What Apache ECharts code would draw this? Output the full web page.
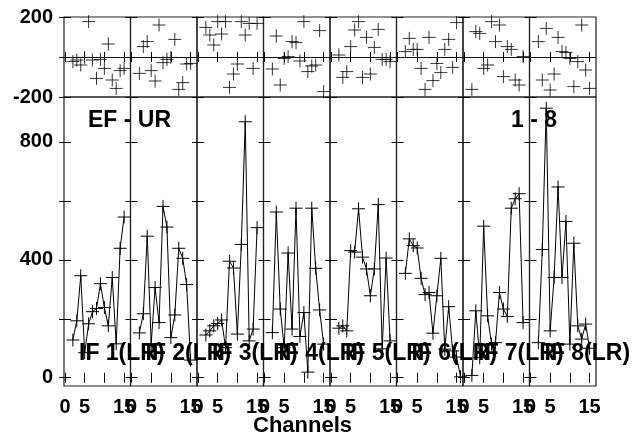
<!DOCTYPE html>
<html>
<head>
<meta charset="utf-8">
<script src="https://cdn.jsdelivr.net/npm/echarts@6/dist/echarts.min.js"></script>
<style>
  html, body { margin: 0; padding: 0; background: #fff; }
  #main { width: 634px; height: 439px; }
</style>
</head>
<body>
<div id="main"></div>
<script>
// channels (x), per IF: amplitude and phase
var channels = [2, 3, 4, 5, 6, 7, 8, 9, 10, 11, 12, 13, 14, 15, 16];
var ifNames = ['IF 1(LR)', 'IF 2(LR)', 'IF 3(LR)', 'IF 4(LR)', 'IF 5(LR)', 'IF 6(LR)', 'IF 7(LR)', 'IF 8(LR)'];

var ampIF1 = [128, 193, 346, 85, 183, 224, 235, 319, 238, 176, 340, 115, 439, 545, '-'];
var ampIF2 = [152, 217, 480, 115, 306, 187, 581, 511, 136, 213, 439, 405, 316, 60, '-'];
var ampIF3 = [145, 159, 176, 184, 196, 102, 395, 372, 148, 452, 868, 125, 165, 509, '-'];
var ampIF4 = [153, 562, 233, 102, 423, 165, 575, 140, 221, 19, 575, 371, 230, 114, '-'];
var ampIF5 = [168, 176, 159, 431, 426, 573, 409, 369, 278, 369, 587, 98, 406, 125, '-'];
var ampIF6 = [354, 471, 448, 440, 337, 282, 289, 151, 278, 405, 97, 241, 91, 70, 3];
var ampIF7 = [8, 227, 68, 514, 210, 114, 119, 289, 233, 208, 575, 607, 624, 187, '-'];
var ampIF8 = [119, 435, 914, 159, 340, 647, 340, 530, 114, 456, 176, 131, 182, 100, '-'];

var phsIF1 = [-23, -15, -40, -2, 177, -15, -107, -12, -57, 65, -115, -157, -68, -57, '-'];
var phsIF2 = [-82, 52, 77, -68, -120, 160, -28, -12, -2, 88, -162, -128, -35, -32, '-'];
var phsIF3 = [148, 110, 60, 177, 115, 177, -152, -85, -35, 177, 110, 168, -57, 168, '-'];
var phsIF4 = [-60, 105, -140, -7, 2, 77, 72, -20, 177, -73, -45, -40, 132, -173, '-'];
var phsIF5 = [10, -102, -73, 52, 135, 177, -102, 98, -85, 48, 138, -12, -12, -23, '-'];
var phsIF6 = [27, 93, 38, 38, -57, -162, 98, -118, -32, -78, 38, 88, -52, 172, '-'];
var phsIF7 = [-162, 127, 118, -57, -40, 177, 77, 160, -98, 52, 38, -115, -140, 2, '-'];
var phsIF8 = [77, -115, 143, -165, -85, 98, 27, 22, -7, -148, -23, 160, -65, -157, '-'];

var xTicks = [0, 5, 10, 15];
var xTickLabels = [0, 5, 15];
var ampTicks = [0, 200, 400, 600, 800];
var ampTickLabels = [0, 400, 800];
var phsTicks = [-200, 0, 200];
var phsTickLabels = [-200, 200];

var ampList = [ampIF1, ampIF2, ampIF3, ampIF4, ampIF5, ampIF6, ampIF7, ampIF8];
var phsList = [phsIF1, phsIF2, phsIF3, phsIF4, phsIF5, phsIF6, phsIF7, phsIF8];

var FONT = 'Liberation Sans, Arial, sans-serif';
var plotLeft = 64;
var panelW = 66.5;
var crossPath = 'path://M0,5L10,5M5,0L5,10';

function pairData(vals) {
  var out = [];
  for (var i = 0; i < channels.length; i++) {
    out.push([channels[i], vals[i]]);
  }
  return out;
}

var grids = [], xAxes = [], yAxes = [], series = [], graphics = [];

function addPanel(col, isAmp) {
  var p = grids.length;
  grids.push({
    left: plotLeft + col * panelW,
    top: isAmp ? 97 : 17,
    width: panelW,
    height: isAmp ? 289 : 80,
    show: true,
    borderColor: '#222',
    borderWidth: 1.2,
    backgroundColor: 'transparent'
  });
  var xBase = {
    gridIndex: p, type: 'value', min: -0.25, max: 16.63,
    axisLine: { show: false },
    splitLine: { show: false },
    axisTick: { show: true, inside: true, length: 5, customValues: xTicks, lineStyle: { color: '#000', width: 1 } }
  };
  xAxes.push(Object.assign({}, xBase, {
    position: 'bottom',
    axisLabel: {
      show: isAmp, customValues: xTickLabels, margin: 11,
      color: '#000', fontFamily: FONT, fontWeight: 'bold', fontSize: 20
    }
  }));
  xAxes.push(Object.assign({}, xBase, { position: 'top', axisLabel: { show: false } }));

  var yMin = isAmp ? -28 : -200;
  var yMax = isAmp ? 952 : 200;
  var yBase = {
    gridIndex: p, type: 'value', min: yMin, max: yMax,
    axisLine: { show: false },
    splitLine: { show: false },
    axisTick: { show: true, inside: true, length: 6, customValues: isAmp ? ampTicks : phsTicks, lineStyle: { color: '#000', width: 1 } }
  };
  yAxes.push(Object.assign({}, yBase, {
    position: 'left',
    axisLabel: {
      show: col === 0, customValues: isAmp ? ampTickLabels : phsTickLabels, margin: 11,
      color: '#000', fontFamily: FONT, fontWeight: 'bold', fontSize: 20
    }
  }));
  yAxes.push(Object.assign({}, yBase, { position: 'right', axisLabel: { show: false } }));

  if (isAmp) {
    series.push({
      type: 'line',
      xAxisIndex: 2 * p, yAxisIndex: 2 * p,
      data: pairData(ampList[col]),
      symbol: crossPath, symbolSize: 13, showAllSymbol: true,
      connectNulls: false,
      lineStyle: { color: '#000', width: 1 },
      itemStyle: { color: '#000', borderColor: '#000', borderWidth: 1 },
      animation: false, silent: true
    });
  } else {
    series.push({
      type: 'scatter',
      xAxisIndex: 2 * p, yAxisIndex: 2 * p,
      data: pairData(phsList[col]),
      symbol: crossPath, symbolSize: 13,
      itemStyle: { color: '#000', borderColor: '#000', borderWidth: 1 },
      markLine: {
        silent: true, symbol: 'none', animation: false,
        label: { show: false },
        lineStyle: { color: '#111', width: 1.2, type: 'solid' },
        data: [{ yAxis: 0 }]
      },
      animation: false, silent: true
    });
  }
}

for (var c = 0; c < 8; c++) {
  addPanel(c, false);
  addPanel(c, true);
  // IF label inside each amplitude panel
  graphics.push({
    type: 'text', left: 79 + c * panelW, top: 342, z: 100,
    style: { text: ifNames[c], fill: '#000', font: 'bold 23px ' + FONT }
  });
}

graphics.push({
  type: 'text', left: 88, top: 109, z: 100,
  style: { text: 'EF - UR', fill: '#000', font: 'bold 23px ' + FONT }
});
graphics.push({
  type: 'text', left: 511, top: 109, z: 100,
  style: { text: '1 - 8', fill: '#000', font: 'bold 23px ' + FONT }
});
graphics.push({
  type: 'text', left: 253, top: 415, z: 100,
  style: { text: 'Channels', fill: '#000', font: 'bold 22px ' + FONT }
});

var myChart = echarts.init(document.getElementById('main'), null, { renderer: 'canvas' });
myChart.setOption({
  backgroundColor: '#fff',
  animation: false,
  grid: grids,
  xAxis: xAxes,
  yAxis: yAxes,
  series: series,
  graphic: graphics
});
</script>
</body>
</html>
